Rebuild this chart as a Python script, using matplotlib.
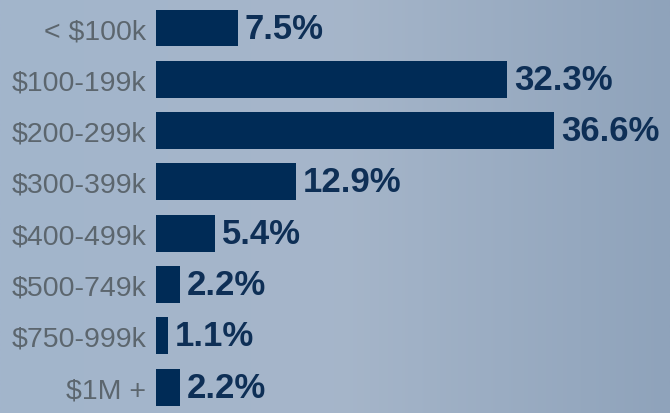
import matplotlib
matplotlib.use("Agg")
import matplotlib.pyplot as plt
import numpy as np
from matplotlib.colors import LinearSegmentedColormap

categories = ["< $100k", "$100-199k", "$200-299k", "$300-399k",
              "$400-499k", "$500-749k", "$750-999k", "$1M +"]
shares = [7.5, 32.3, 36.6, 12.9, 5.4, 2.2, 1.1, 2.2]
value_labels = ["7.5%", "32.3%", "36.6%", "12.9%", "5.4%", "2.2%", "1.1%", "2.2%"]

W, H, DPI = 670, 414, 100
fig = plt.figure(figsize=(W / DPI, H / DPI), dpi=DPI)

# background gradient (lighter left, darker right)
bg = fig.add_axes([0, 0, 1, 1], zorder=0)
cmap = LinearSegmentedColormap.from_list("bg", ["#a2b5cc", "#a6b6ca", "#8fa3bb"])
grad = np.linspace(0, 1, 256).reshape(1, -1)
bg.imshow(grad, aspect="auto", cmap=cmap, extent=[0, 1, 0, 1])
bg.axis("off")

# chart axes: x=0 at pixel 156, ~10.87 px per percent
left_px = 156
px_per_pct = 10.87
pitch = 51.3
first_center = 29
ax = fig.add_axes([left_px / W, 0, 1 - left_px / W, 1], zorder=1)
ax.patch.set_alpha(0)

y = np.arange(len(categories))
bars = ax.barh(y, shares, height=0.72, color="#002b56")

ax.set_xlim(0, (W - left_px) / px_per_pct)
ax.set_ylim((H - first_center) / pitch, -first_center / pitch)

ax.set_yticks(y)
ax.set_yticklabels(categories, fontsize=20.5, color="#5c666e",
                   fontfamily="Liberation Sans")
ax.tick_params(axis="y", length=0, pad=7)
ax.set_xticks([])
for s in ax.spines.values():
    s.set_visible(False)

ax.bar_label(bars, labels=value_labels, padding=5, fontsize=25,
             fontweight="bold", color="#0e2f56", fontfamily="Liberation Sans")

fig.savefig("out.png", dpi=DPI)
